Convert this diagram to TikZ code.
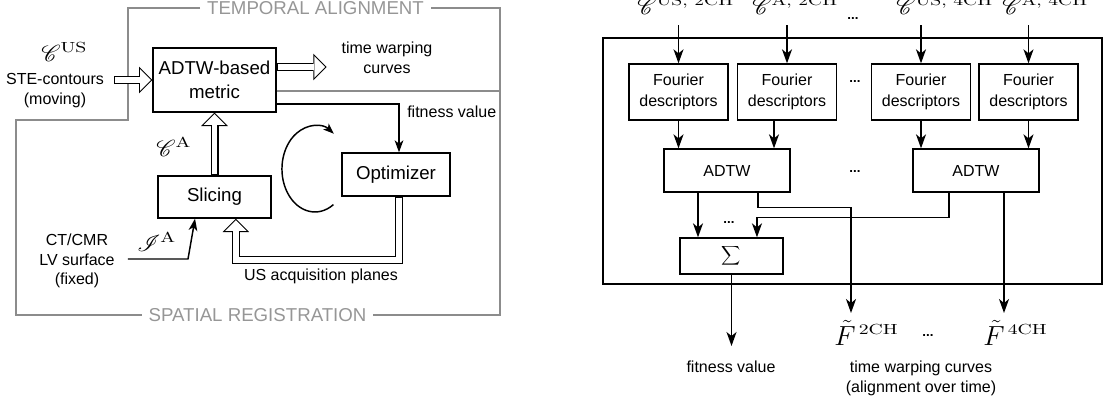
\documentclass[tikz,border=0pt]{standalone}
\usepackage[no-math]{fontspec}
\setmainfont{Liberation Sans}
\usepackage{mathrsfs}
\usepackage{graphicx}
\usetikzlibrary{arrows.meta}
\definecolor{framegray}{RGB}{140,140,140}
\definecolor{textgray}{RGB}{150,150,150}
\newcommand{\supx}[1]{\scalebox{1.35}[1]{\fontsize{10.5}{12}\selectfont$\mathrm{#1}$}}
\newcommand{\mlab}[1]{\fontsize{18}{21}\selectfont$#1$}
\begin{document}
\begin{tikzpicture}[x=0.75pt,y=-0.75pt,
  box/.style={draw, line width=1pt, align=center, inner sep=0pt, font=\fontsize{12}{16}\selectfont},
  bigbox/.style={box, font=\fontsize{14}{18}\selectfont},
  lbl/.style={align=center, inner sep=0pt, font=\fontsize{12}{15}\selectfont},
  mathlbl/.style={inner sep=0pt, anchor=base west},
  glbl/.style={inner sep=5pt, text=textgray, font=\fontsize{14}{16}\selectfont},
  dots/.style={inner sep=0pt, font=\fontsize{10}{12}\selectfont\bfseries},
  frame/.style={draw=framegray, line width=1pt},
  arr/.style={line width=1.1pt, -{Stealth[length=9pt,width=6.5pt,inset=2.5pt]}},
  arrR/.style={line width=1.1pt, -{Stealth[length=10.5pt,width=7.5pt,inset=3pt]}},
  hollow/.style={line width=6pt, -{Triangle[length=10pt,width=20pt,line width=0pt]},
     postaction={draw, white, line width=4.4pt, shorten <=0.8pt, shorten >=1.13pt,
       -{Triangle[length=8.07pt,width=16.14pt,line width=0pt]}}}
]
\useasboundingbox (0,0) rectangle (1109,405);

% ---------------- left panel ----------------
\node[bigbox, minimum width=92.25pt, minimum height=48pt] (adtw) at (214.5,80) {ADTW-based\\metric};
\node[bigbox, minimum width=84.75pt, minimum height=31.5pt] (slc) at (214.5,197) {Slicing};
\node[bigbox, minimum width=81pt, minimum height=32.25pt] (opt) at (396,174.5) {Optimizer};

\node[mathlbl] (cus) at (41,61) {\mlab{\mathscr{C}^{\supx{US}}}};
\node[mathlbl] (ca) at (156,156) {\mlab{\mathscr{C}^{\supx{A}}}};
\node[mathlbl] (ia) at (137,251) {\mlab{\mathscr{I}^{\supx{A}}}};

\node[lbl] (ste) at (55,91) {STE-contours\\(moving)};
\node[lbl] (twc) at (387,58) {time warping\\curves};
\node[lbl, anchor=west] (fv1) at (407,112) {fitness value};
\node[lbl, font=\fontsize{12}{14.5}\selectfont] (ct) at (77,261) {CT/CMR\\LV surface\\(fixed)};
\node[lbl] (usa) at (321,276) {US acquisition planes};
\node[glbl] (tal) at (315.5,8) {TEMPORAL ALIGNMENT};
\node[glbl] (spr) at (257.5,315) {SPATIAL REGISTRATION};

% grey frames
\draw[frame] (tal.west) -- (128,8) -- (128,120) -- (16,120) -- (16,315) -- (spr.west);
\draw[frame] (spr.east) -- (500,315) -- (500,8) -- (tal.east);
\draw[frame] (adtw.east |- 0,91) -- (500,91);

% hollow arrows
\draw[hollow] ([xshift=7.5pt]ste.east |- adtw.west) -- (adtw.west);
\draw[hollow] (slc.north) -- (adtw.south);
\draw[hollow] (adtw.east |- 0,67) -- ([xshift=-11pt]twc.west |- 0,67);
\coordinate (o1) at ([xshift=2.25pt]opt.south);
\draw[hollow] (o1) -- ++(0,63) -| ([xshift=16pt]slc.south);

% thin arrows
\draw[arr] (adtw.east |- 0,104) -| ([xshift=2.25pt]opt.north);
\coordinate (cts) at ([xshift=9.75pt]ct.east);
\draw[arr] (cts |- 0,259) -- (188,259) -- ([xshift=-14.6pt]slc.south);

% cycle
\draw[line width=1.1pt, -{Stealth[length=8pt,width=6pt,inset=2pt]}]
  (333.4,204.6) arc[start angle=-56, end angle=-305, x radius=24.75pt, y radius=32.25pt];

% ---------------- right panel ----------------
\node[draw, line width=1.1pt, minimum width=374.25pt, minimum height=184.5pt, inner sep=0pt] (rp) at (852.5,161) {};

\node[box, minimum width=74.25pt, minimum height=42pt] (fd1) at (678.5,92) {Fourier\\descriptors};
\node[box, minimum width=74.25pt, minimum height=42pt] (fd2) at (787,92) {Fourier\\descriptors};
\node[box, minimum width=74.25pt, minimum height=42pt] (fd3) at (921,92) {Fourier\\descriptors};
\node[box, minimum width=74.25pt, minimum height=42pt] (fd4) at (1028.5,92) {Fourier\\descriptors};

\node[box, minimum width=94.5pt, minimum height=32.25pt] (ad1) at (727,170.5) {ADTW};
\node[box, minimum width=94.5pt, minimum height=32.25pt] (ad2) at (976,170.5) {ADTW};
\node[box, minimum width=77.25pt, minimum height=27pt] (sum) at (731.5,256) {\fontsize{12.5}{14}\selectfont$\displaystyle\sum$};

\node[mathlbl] (c1) at (637,14) {\mlab{\mathscr{C}^{\supx{US,\,2CH}}}};
\node[mathlbl] (c2) at (752,14) {\mlab{\mathscr{C}^{\supx{A,\,2CH}}}};
\node[mathlbl] (c3) at (896,14) {\mlab{\mathscr{C}^{\supx{US,\,4CH}}}};
\node[mathlbl] (c4) at (1002,14) {\mlab{\mathscr{C}^{\supx{A,\,4CH}}}};

\node[dots] (d1) at (853,18) {...};
\node[dots] (d2) at (855,81) {...};
\node[dots] (d3) at (855,171) {...};
\node[dots] (d4) at (729,222) {...};
\node[dots] (d5) at (928,335) {...};

\node[mathlbl] (f2) at (834,345) {\fontsize{20}{24}\selectfont$\tilde{F}^{\,\supx{2CH}}$};
\node[mathlbl] (f4) at (983,345) {\fontsize{20}{24}\selectfont$\tilde{F}^{\,\supx{4CH}}$};
\node[lbl] (fv2) at (731,367) {fitness value};
\node[lbl] (twc2) at (921,378) {time warping curves\\(alignment over time)};

% arrows
\draw[arrR] (fd1.north |- 0,25) -- (fd1.north);
\draw[arrR] (fd2.north |- 0,25) -- (fd2.north);
\draw[arrR] (fd3.north |- 0,25) -- (fd3.north);
\draw[arrR] (fd4.north |- 0,25) -- (fd4.north);

\draw[arrR] (fd1.south) -- (fd1.south |- ad1.north);
\coordinate (f2b) at ([xshift=-9.75pt]fd2.south);
\draw[arrR] (f2b) -- (f2b |- ad1.north);
\draw[arrR] (fd3.south) -- (fd3.south |- ad2.north);
\draw[arrR] (fd4.south) -- (fd4.south |- ad2.north);

\coordinate (a1l) at ([xshift=-21.75pt]ad1.south);
\draw[arrR] (a1l) -- (a1l |- sum.north);
\coordinate (a2l) at ([xshift=-20.25pt]ad2.south);
\draw[arrR] (a2l) -- ++(0,25) -| ([xshift=19.1pt]sum.north);
\coordinate (a1r) at ([xshift=23.25pt]ad1.south);
\coordinate (e2) at (851,313);
\draw[arrR] (a1r) -- ++(0,15) -| (e2);
\coordinate (a2r) at ([xshift=21pt]ad2.south);
\draw[arrR] (a2r) -- (a2r |- e2);
\coordinate (e1) at (731.5,346);
\draw[arrR] (sum.south) -- (e1);
\end{tikzpicture}
\end{document}
